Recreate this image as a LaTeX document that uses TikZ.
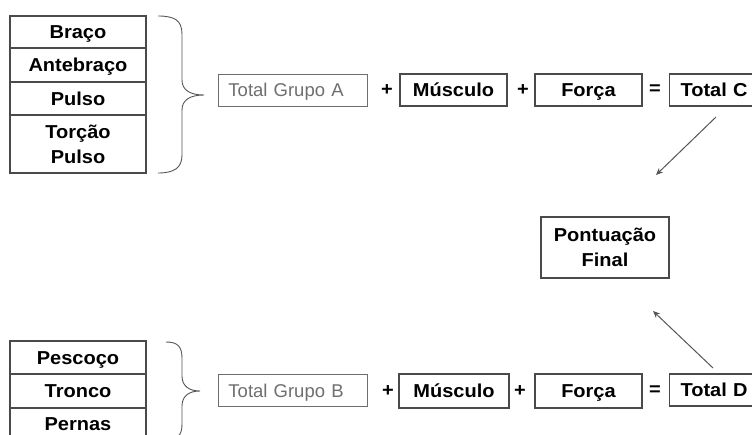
\documentclass[tikz,border=0pt]{standalone}
\usepackage{fontspec}
\usetikzlibrary{arrows.meta}
\setmainfont{Liberation Sans}
\newfontfamily\boldface[FakeStretch=1.07]{Liberation Sans Bold}
\newcommand{\lblfont}{\boldface\fontsize{18.7}{25}\selectfont}
\newcommand{\regfont}{\rmfamily\fontsize{18.5}{24}\selectfont}
\definecolor{boxc}{HTML}{4A4A4A}
\definecolor{totc}{HTML}{6E6E6E}
\definecolor{arrc}{HTML}{555555}
\tikzset{
  cell/.style={draw=boxc, line width=1.2pt, minimum width=136pt, inner sep=0pt,
    font=\lblfont, align=center, text height=13.4pt, text depth=0pt},
  box/.style={draw=boxc, line width=1.2pt, inner sep=0pt, font=\lblfont, align=center,
    text height=13.4pt, text depth=0pt},
  twolines/.style={text height=, text depth=},
  tot/.style={draw=totc, line width=0.9pt, inner sep=0pt, font=\regfont, text=totc,
    minimum width=149pt, minimum height=32pt, text height=13.3pt, text depth=0pt,
    anchor=west, text width=149pt, align=left},
  op/.style={inner sep=0pt, font=\lblfont},
  brace/.style={draw=arrc, line width=0.9pt},
  link/.style={draw=arrc, line width=1pt, -{Stealth[length=7pt,width=6pt]}},
}
\begin{document}
\begin{tikzpicture}[x=1pt, y=-1pt]
\useasboundingbox (0,0) rectangle (752,434);
\clip (0,0) rectangle (752,434);

% upper limb segments
\node[cell, minimum height=32pt] (braco) at (78,32) {Braço};
\node[cell, minimum height=34pt] (antebraco) at (78,65) {Antebraço};
\node[cell, minimum height=33pt] (pulso) at (78,98.5) {Pulso};
\node[cell, twolines, minimum height=58pt] (torcao) at (78,144) {Torção\\Pulso};

% brace gathering group A
\draw[brace] (158,16) .. controls (174,16) and (182,20) .. (182,34) -- (182,80)
  .. controls (182,90) and (190,95) .. (204,95)
  .. controls (190,95) and (182,100) .. (182,110) -- (182,155)
  .. controls (182,168) and (174,173) .. (158,173);

% group A sum
\node[tot] (tga) at (218,90) {\hspace*{10pt}Total Grupo A};
\node[op] (pa1) at (387,90) {+};
\node[box, minimum width=107pt, minimum height=32pt] (musa) at (453.5,90) {Músculo};
\node[op] (pa2) at (523,90) {+};
\node[box, minimum width=107pt, minimum height=32pt] (forca) at (588.5,90) {Força};
\node[op] (eqa) at (655,90) {=};
\node[box, minimum width=100pt, minimum height=32pt, anchor=west, text width=92pt, align=left]
  (totc) at (669,90) {\hspace*{7pt}Total C};

% final score
\node[box, twolines, minimum width=128pt, minimum height=61pt] (final) at (605,247.5)
  {Pontuação\\Final};

% trunk segments
\node[cell, minimum height=33pt] (pescoco) at (78,357.5) {Pescoço};
\node[cell, minimum height=34pt] (tronco) at (78,391) {Tronco};
\node[cell, minimum height=32pt] (pernas) at (78,424) {Pernas};

% brace gathering group B
\draw[brace] (166,342) .. controls (177,342) and (182,346) .. (182,358) -- (182,376)
  .. controls (182,386) and (189,391) .. (200,391)
  .. controls (189,391) and (182,396) .. (182,406) -- (182,424)
  .. controls (182,436) and (177,440) .. (166,440);

% group B sum
\node[tot] (tgb) at (218,390.5) {\hspace*{10pt}Total Grupo B};
\node[op] (pb1) at (388,391) {+};
\node[box, minimum width=110pt, minimum height=34pt] (musb) at (454,391) {Músculo};
\node[op] (pb2) at (520,391) {+};
\node[box, minimum width=107pt, minimum height=34pt] (forcb) at (588.5,391) {Força};
\node[op] (eqb) at (655,391) {=};
\node[box, minimum width=100pt, minimum height=32pt, anchor=west, text width=92pt, align=left]
  (totd) at (669,390) {\hspace*{7pt}Total D};

% arrows towards the final score
\coordinate (cs) at (716,117);
\coordinate (ce) at (656,175);
\coordinate (ds) at (713,368);
\coordinate (de) at (653,311);
\draw[link] (cs) -- (ce);
\draw[link] (ds) -- (de);
\end{tikzpicture}
\end{document}
